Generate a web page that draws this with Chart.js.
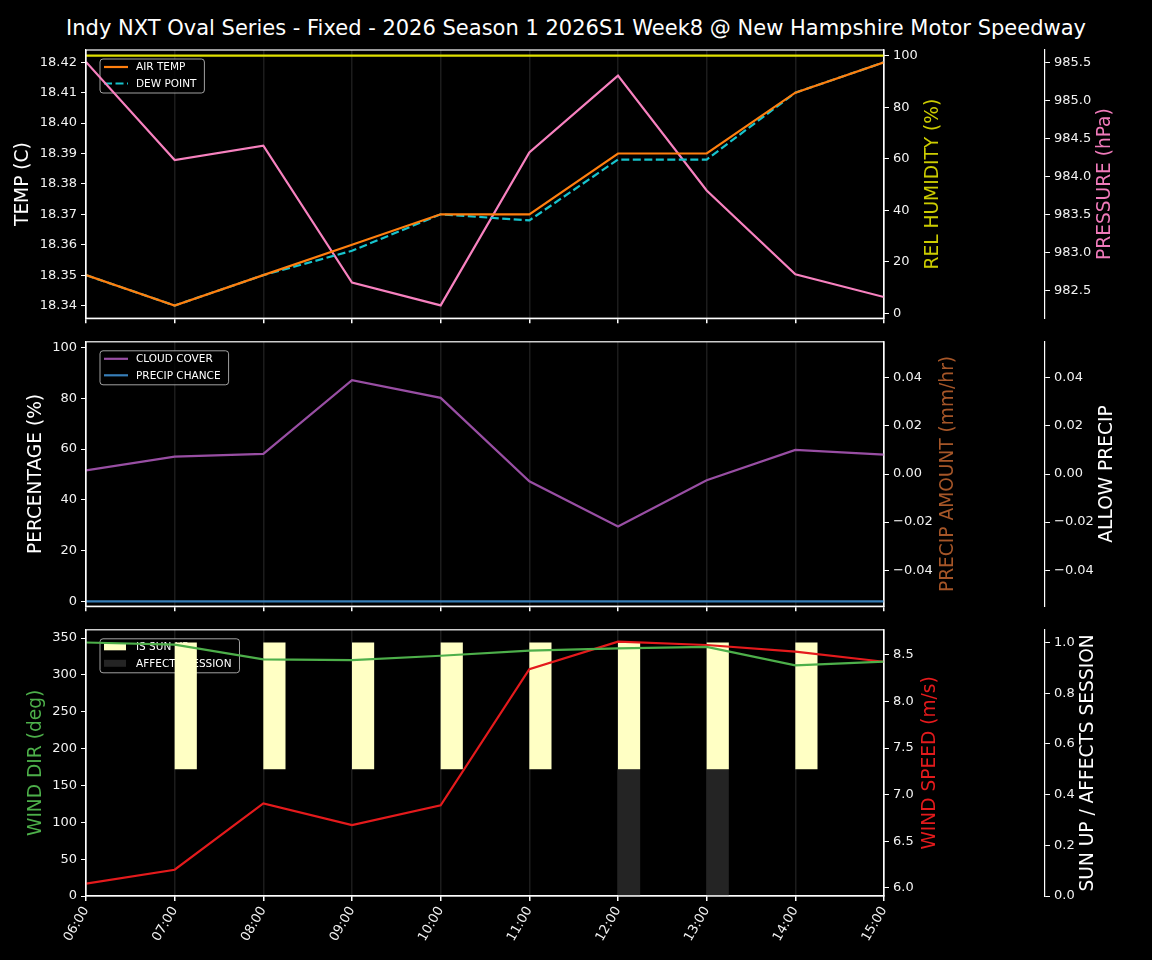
<!DOCTYPE html>
<html>
<head>
<meta charset="utf-8">
<script src="https://cdn.jsdelivr.net/npm/chart.js@4/dist/chart.umd.min.js"></script>
<style>
  body { margin: 0; background: #000; width: 1152px; height: 960px; overflow: hidden; position: relative; font-family: "DejaVu Sans", sans-serif; }
  #titulo { position: absolute; top: 15px; left: 0; width: 1152px; text-align: center; color: #fff; font-size: 21px; line-height: 26px; }
  canvas { position: absolute; left: 0; }
</style>
</head>
<body>
<div id="titulo">Indy NXT Oval Series - Fixed - 2026 Season 1 2026S1 Week8 @ New Hampshire Motor Speedway</div>
<canvas id="c1" width="1152" height="330" style="top:0px"></canvas>
<canvas id="c2" width="1152" height="288" style="top:330px"></canvas>
<canvas id="c3" width="1152" height="342" style="top:618px"></canvas>
<script>
// dados
var horas = ['06:00', '07:00', '08:00', '09:00', '10:00', '11:00', '12:00', '13:00', '14:00', '15:00'];
var airTemp = [18.35, 18.34, 18.35, 18.36, 18.37, 18.37, 18.39, 18.39, 18.41, 18.42];
var dewPoint = [18.35, 18.34, 18.35, 18.358, 18.37, 18.368, 18.388, 18.388, 18.41, 18.42];
var humidity = [100, 100, 100, 100, 100, 100, 100, 100, 100, 100];
var pressure = [985.51, 984.22, 984.41, 982.61, 982.31, 984.32, 985.33, 983.82, 982.72, 982.42];
var cloudCover = [51.6, 57.0, 58.1, 87.2, 80.2, 47.3, 29.5, 47.7, 59.7, 57.8];
var precipChance = [0, 0, 0, 0, 0, 0, 0, 0, 0, 0];
var precipAmount = [0, 0, 0, 0, 0, 0, 0, 0, 0, 0];
var allowPrecip = [0, 0, 0, 0, 0, 0, 0, 0, 0, 0];
var windDir = [344, 341, 321, 320, 326, 333, 336, 338, 313, 318];
var windSpeed = [6.045, 6.194, 6.906, 6.672, 6.885, 8.347, 8.641, 8.606, 8.535, 8.426];
var sunUp = [0, 1, 1, 1, 1, 1, 1, 1, 1, 1];
var affectsSession = [0, 0, 0, 0, 0, 0, 1, 1, 0, 0];

// ticks dos eixos
var tempTicks = [18.34, 18.35, 18.36, 18.37, 18.38, 18.39, 18.40, 18.41, 18.42];
var humTicks = [0, 20, 40, 60, 80, 100];
var pressTicks = [982.5, 983.0, 983.5, 984.0, 984.5, 985.0, 985.5];
var pctTicks = [0, 20, 40, 60, 80, 100];
var precipTicks = [-0.04, -0.02, 0, 0.02, 0.04];
var dirTicks = [0, 50, 100, 150, 200, 250, 300, 350];
var speedTicks = [6.0, 6.5, 7.0, 7.5, 8.0, 8.5];
var sunTicks = [0, 0.2, 0.4, 0.6, 0.8, 1.0];

Chart.defaults.font.family = '"DejaVu Sans", sans-serif';
Chart.defaults.color = '#fff';

var xs = horas.map(function (h) { return parseInt(h, 10); });
function pts(arr) {
    return arr.map(function (v, i) { return { x: xs[i], y: v }; });
}
function menos(s) { return s.replace('-', '\u2212'); }
function fixarTicks(lista) {
    return function (s) { s.ticks = lista.map(function (v) { return { value: v }; }); };
}

var barShift = 0.125; // barras alinhadas pela borda esquerda

function eixoX(mostrar, altura) {
    return {
        type: 'linear', position: 'bottom', min: xs[0], max: xs[xs.length - 1], bounds: 'data', offset: false,
        ticks: {
            display: mostrar, color: '#f2f2f2', font: { size: 13 },
            minRotation: 60, maxRotation: 60, padding: 3, autoSkip: false,
            callback: function (v) { return horas[xs.indexOf(Math.round(v))]; }
        },
        afterBuildTicks: fixarTicks(xs),
        grid: { color: '#1c1c1c', tickColor: '#fff', tickLength: 5, lineWidth: 1.5, offset: false },
        border: { color: '#fff', width: 1.2 },
        afterFit: function (s) { s.height = altura; s.paddingLeft = 0; s.paddingRight = 0; }
    };
}

function eixoY(pos, largura, min, max, ticks, casas, peso) {
    return {
        type: 'linear', position: pos, min: min, max: max, bounds: 'data', weight: peso || 0, stacked: false,
        ticks: {
            color: '#f2f2f2', font: { size: 13 }, padding: 4, autoSkip: false,
            callback: function (v) { return menos(Number(v).toFixed(casas)); }
        },
        afterBuildTicks: fixarTicks(ticks),
        grid: { display: true, drawOnChartArea: false, tickColor: '#fff', tickLength: 5 },
        border: { color: '#fff', width: 1.2 },
        afterFit: function (s) { s.width = largura; }
    };
}

function linha(label, dados, cor, eixo, tracejado) {
    return {
        type: 'line', label: label, data: pts(dados), yAxisID: eixo,
        borderColor: cor, backgroundColor: cor, borderWidth: 2.2,
        borderDash: tracejado ? [8, 3.5] : [], pointRadius: 0, tension: 0, order: 1
    };
}

// legenda e titulos laterais desenhados a mao
function decoracao(cfg) {
    return {
        id: 'decoracao',
        beforeDatasetsDraw: function (chart) {
            var ctx = chart.ctx, a = chart.chartArea;
            ctx.save();
            ctx.font = '10.5px "DejaVu Sans"';
            var maior = 0;
            cfg.legenda.forEach(function (it) { maior = Math.max(maior, ctx.measureText(it.label).width); });
            var x0 = a.left + 14, y0 = a.top + 9, w = 36 + maior + 8, h = 34;
            ctx.beginPath();
            ctx.roundRect(x0, y0, w, h, 3);
            ctx.fillStyle = 'rgba(0,0,0,0.8)';
            ctx.fill();
            ctx.strokeStyle = 'rgba(200,200,200,0.8)';
            ctx.lineWidth = 1;
            ctx.stroke();
            cfg.legenda.forEach(function (it, i) {
                var yc = y0 + 8 + i * 16.5;
                if (it.tipo === 'patch') {
                    ctx.fillStyle = it.cor;
                    ctx.fillRect(x0 + 4, yc - 3.5, 22, 7);
                } else {
                    ctx.beginPath();
                    ctx.setLineDash(it.tipo === 'dash' ? [8, 3.5] : []);
                    ctx.strokeStyle = it.cor;
                    ctx.lineWidth = 2.2;
                    ctx.moveTo(x0 + 4, yc);
                    ctx.lineTo(x0 + 28, yc);
                    ctx.stroke();
                    ctx.setLineDash([]);
                }
                ctx.fillStyle = '#fff';
                ctx.textBaseline = 'middle';
                ctx.textAlign = 'left';
                ctx.fillText(it.label, x0 + 36, yc + 0.5);
            });
            ctx.restore();
        },
        afterDraw: function (chart) {
            var ctx = chart.ctx, a = chart.chartArea;
            ctx.save();
            ctx.strokeStyle = '#fff';
            ctx.lineWidth = 1.2;
            ctx.strokeRect(a.left, a.top, a.right - a.left, a.bottom - a.top);
            var yc = (a.top + a.bottom) / 2;
            ctx.font = '18.6px "DejaVu Sans"';
            ctx.textAlign = 'center';
            ctx.textBaseline = 'middle';
            cfg.titulos.forEach(function (t) {
                var sc = chart.scales[t.eixo];
                ctx.save();
                ctx.translate(sc.left + t.dx, yc);
                ctx.rotate(-Math.PI / 2);
                ctx.fillStyle = t.cor;
                ctx.fillText(t.texto, 0, 0);
                ctx.restore();
            });
            ctx.restore();
        }
    };
}

function criar(id, datasets, scales, padTop, cfg) {
    var ctx = document.getElementById(id).getContext('2d');
    return new Chart(ctx, {
        data: { datasets: datasets },
        options: {
            responsive: false, animation: false, devicePixelRatio: 1,
            layout: { padding: { top: padTop, left: 0, right: 0, bottom: 0 } },
            plugins: { legend: { display: false }, tooltip: { enabled: false } },
            scales: scales
        },
        plugins: [decoracao(cfg)]
    });
}

// painel 1: temperatura, umidade, pressao
criar('c1', [
    linha('AIR TEMP', airTemp, '#ff7f0e', 'y'),
    linha('DEW POINT', dewPoint, '#17c3cc', 'y', true),
    linha('REL HUMIDITY', humidity, '#e0e000', 'y1'),
    linha('PRESSURE', pressure, '#f781bf', 'y2')
], {
    x: eixoX(false, 11),
    y: eixoY('left', 86, 18.33584, 18.42403, tempTicks, 2),
    y1: eixoY('right', 161, -1.94, 102.2, humTicks, 0, 0),
    y2: eixoY('right', 107, 982.142, 985.666, pressTicks, 1, 1)
}, 50, {
    legenda: [
        { label: 'AIR TEMP', cor: '#ff7f0e', tipo: 'line' },
        { label: 'DEW POINT', cor: '#17c3cc', tipo: 'dash' }
    ],
    titulos: [
        { eixo: 'y', texto: 'TEMP (C)', cor: '#fff', dx: 23 },
        { eixo: 'y1', texto: 'REL HUMIDITY (%)', cor: '#cccc00', dx: 49 },
        { eixo: 'y2', texto: 'PRESSURE (hPa)', cor: '#f07aba', dx: 60 }
    ]
});

// painel 2: nuvens e precipitacao
var barraZero = function (label, dados, eixo) {
    return { type: 'bar', label: label, data: pts(dados), yAxisID: eixo, backgroundColor: '#a65628', borderWidth: 0, order: 5 };
};
criar('c2', [
    linha('CLOUD COVER', cloudCover, '#984ea3', 'y'),
    linha('PRECIP CHANCE', precipChance, '#377eb8', 'y'),
    barraZero('PRECIP AMOUNT', precipAmount, 'y1'),
    barraZero('ALLOW PRECIP', allowPrecip, 'y2')
], {
    x: eixoX(false, 11),
    y: eixoY('left', 86, -1.94, 102.3, pctTicks, 0),
    y1: eixoY('right', 161, -0.055, 0.055, precipTicks, 2, 0),
    y2: eixoY('right', 107, -0.055, 0.055, precipTicks, 2, 1)
}, 8, {
    legenda: [
        { label: 'CLOUD COVER', cor: '#984ea3', tipo: 'line' },
        { label: 'PRECIP CHANCE', cor: '#377eb8', tipo: 'line' }
    ],
    titulos: [
        { eixo: 'y', texto: 'PERCENTAGE (%)', cor: '#fff', dx: 36 },
        { eixo: 'y1', texto: 'PRECIP AMOUNT (mm/hr)', cor: '#a65628', dx: 64 },
        { eixo: 'y2', texto: 'ALLOW PRECIP', cor: '#fff', dx: 62 }
    ]
});

// painel 3: vento e sol
var eixoBarras = {
    type: 'linear', display: false, bounds: 'data', offset: false,
    min: xs[0] - barShift, max: xs[xs.length - 1] - barShift,
    afterBuildTicks: fixarTicks(xs)
};
function barraSol(label, flags, faixa, cor) {
    return {
        type: 'bar', label: label, xAxisID: 'xb', yAxisID: 'y2', order: 5, clip: 0, grouped: false,
        data: flags.map(function (v, i) { return { x: xs[i], y: v ? faixa : null }; }),
        backgroundColor: cor, borderWidth: 0, barPercentage: 0.25, categoryPercentage: 1
    };
}
criar('c3', [
    linha('WIND DIR', windDir, '#4daf4a', 'y'),
    linha('WIND SPEED', windSpeed, '#e41a1c', 'y1'),
    barraSol('IS SUN UP', sunUp, [0.5, 1], '#ffffc4'),
    barraSol('AFFECTS SESSION', affectsSession, [0, 0.5], '#242424')
], {
    x: eixoX(true, 64),
    xb: eixoBarras,
    y: eixoY('left', 86, 0, 361.2, dirTicks, 0),
    y1: eixoY('right', 161, 5.912, 8.769, speedTicks, 1, 0),
    y2: eixoY('right', 107, 0, 1.05, sunTicks, 1, 1)
}, 9, {
    legenda: [
        { label: 'IS SUN UP', cor: '#ffffc4', tipo: 'patch' },
        { label: 'AFFECTS SESSION', cor: '#242424', tipo: 'patch' }
    ],
    titulos: [
        { eixo: 'y', texto: 'WIND DIR (deg)', cor: '#4daf4a', dx: 36 },
        { eixo: 'y1', texto: 'WIND SPEED (m/s)', cor: '#e41a1c', dx: 46 },
        { eixo: 'y2', texto: 'SUN UP / AFFECTS SESSION', cor: '#fff', dx: 43 }
    ]
});
</script>
</body>
</html>
